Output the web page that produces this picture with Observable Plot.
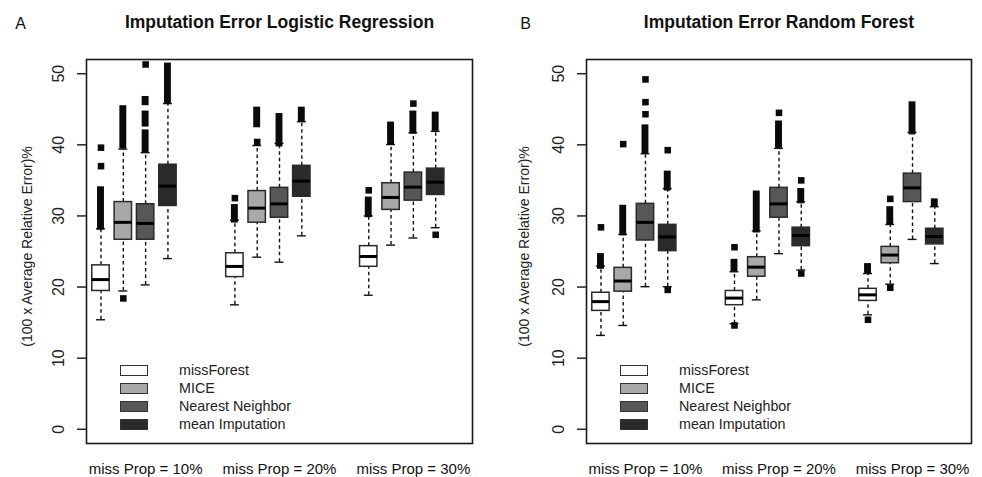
<!DOCTYPE html>
<html>
<head>
<meta charset="utf-8">
<script src="https://cdn.jsdelivr.net/npm/d3@7"></script>
<script src="https://cdn.jsdelivr.net/npm/@observablehq/plot@0.6"></script>
<style>
  html, body { margin: 0; padding: 0; background: #fff; }
  #wrap { display: flex; width: 982px; height: 477px; }
  .panel { position: relative; width: 491px; height: 477px; }
  .legend { position: absolute; font-family: "Liberation Sans", Arial, sans-serif; font-size: 14.3px; color: #222; }
  .legend .row { position: absolute; height: 10px; white-space: nowrap; }
  .legend .sw { position: absolute; width: 26px; height: 9px; border: 1px solid #333; }
  .legend .lab { position: absolute; top: -4px; line-height: 18px; }
</style>
</head>
<body>
<div id="wrap"></div>
<script>
// ---- categories & labels ----
const methods = ["missForest", "MICE", "Nearest Neighbor", "mean Imputation"];
const methodFills = ["#ffffff", "#a8a8a8", "#575757", "#2a2a2a"];
const propLabels = ["miss Prop = 10%", "miss Prop = 20%", "miss Prop = 30%"];
const propCenters = [3, 9, 15];
const boxPositions = [1, 2, 3, 4, 7, 8, 9, 10, 13, 14, 15, 16];
const yTicks = [0, 10, 20, 30, 40, 50];
const yLabel = "(100 x Average Relative Error)%";

// ---- Panel A: Logistic Regression (order: 10% mF, MICE, NN, mean, 20% ..., 30% ...) ----
const lrLowerWhisker = [15.4, 19.45, 20.3, 24.0, 17.5, 24.2, 23.5, 27.2, 18.85, 25.9, 26.9, 28.35];
const lrQ1 = [19.45, 26.65, 26.65, 31.4, 21.4, 29.05, 29.75, 32.7, 22.85, 30.85, 32.15, 32.95];
const lrMedian = [21.05, 29.1, 28.95, 34.2, 22.9, 31.1, 31.7, 34.9, 24.3, 32.6, 34.05, 34.75];
const lrQ3 = [23.05, 31.95, 31.65, 37.2, 24.75, 33.5, 33.95, 37.05, 25.75, 34.6, 36.1, 36.65];
const lrUpperWhisker = [28.2, 39.4, 38.9, 45.8, 29.4, 39.9, 40.2, 43.25, 30.0, 40.05, 41.7, 41.9];
const lrOutlierRuns = [
  [[28.0, 34.1]], [[39.4, 45.5]], [[38.9, 42.1], [42.5, 44.75], [45.5, 46.8]], [[45.8, 51.5]],
  [[29.0, 31.6]], [[42.4, 45.3]], [[39.7, 44.4]], [[43.25, 45.3]],
  [[29.75, 32.65]], [[39.9, 43.2]], [[41.5, 44.75]], [[41.9, 44.6]]
];
const lrOutlierPoints = [
  [37.0, 39.6], [18.4], [51.3], [],
  [32.5], [40.4], [], [],
  [33.6], [], [45.8], [27.35]
];

// ---- Panel B: Random Forest ----
const rfLowerWhisker = [13.2, 14.6, 20.05, 20.05, 14.85, 18.2, 24.7, 22.4, 16.1, 20.4, 26.7, 23.3];
const rfQ1 = [16.65, 19.35, 26.55, 25.05, 17.45, 21.45, 29.75, 25.75, 18.05, 23.35, 31.95, 26.0];
const rfMedian = [17.95, 20.85, 29.1, 27.05, 18.45, 22.8, 31.7, 27.25, 18.9, 24.5, 33.95, 27.1];
const rfQ3 = [19.2, 22.7, 31.7, 28.75, 19.45, 24.2, 33.95, 28.35, 19.75, 25.65, 35.95, 28.2];
const rfUpperWhisker = [22.95, 27.4, 38.75, 33.85, 22.15, 27.9, 39.5, 32.0, 21.9, 28.8, 41.75, 31.3];
const rfOutlierRuns = [
  [[22.5, 24.7]], [[27.2, 31.5]], [[38.75, 42.8]], [[33.5, 36.3]],
  [[22.1, 23.9]], [[27.6, 33.5]], [[39.5, 43.35]], [[31.7, 33.85]],
  [[21.8, 23.3]], [[28.7, 31.3]], [[41.4, 46.05]], [[31.2, 32.4]]
];
const rfOutlierPoints = [
  [28.4], [40.1], [44.3, 46.0, 49.2], [39.25, 19.6],
  [25.6, 14.6], [], [44.5], [35.0, 21.9],
  [15.4], [32.4, 19.9], [], []
];

const FONT = "'Liberation Sans', Arial, Helvetica, sans-serif";

function panel(cfg) {
  const boxes = boxPositions.map((pos, i) => ({
    pos, method: methods[i % 4],
    lower: cfg.lower[i], q1: cfg.q1[i], median: cfg.median[i], q3: cfg.q3[i], upper: cfg.upper[i]
  }));
  const runRows = cfg.runs.flatMap((rs, i) => rs.map(([lo, hi]) => ({pos: boxPositions[i], lo, hi})));
  const pointRows = cfg.points.flatMap((ps, i) => ps.map(v => ({pos: boxPositions[i], v})));
  const half = 0.39, cap = 0.2, runHalf = 0.155;
  const whisk = {stroke: "#111", strokeWidth: 1.4, strokeDasharray: "3.5,3"};
  const capS = {stroke: "#111", strokeWidth: 1.4};

  const svg = Plot.plot({
    width: 491, height: 477,
    marginTop: 59, marginBottom: 34, marginLeft: cfg.marginLeft, marginRight: cfg.marginRight,
    x: {domain: [0.35, 17.65], axis: null},
    y: {domain: [-2, 52], axis: null},
    color: {domain: methods, range: methodFills},
    style: {fontFamily: FONT, background: "white", overflow: "visible", color: "#222"},
    marks: [
      Plot.ruleX(boxes, {x: "pos", y1: "q3", y2: "upper", ...whisk}),
      Plot.ruleX(boxes, {x: "pos", y1: "lower", y2: "q1", ...whisk}),
      Plot.ruleY(boxes, {y: "upper", x1: d => d.pos - cap, x2: d => d.pos + cap, ...capS}),
      Plot.ruleY(boxes, {y: "lower", x1: d => d.pos - cap, x2: d => d.pos + cap, ...capS}),
      Plot.rect(runRows, {x1: d => d.pos - runHalf, x2: d => d.pos + runHalf, y1: "lo", y2: "hi", fill: "#0a0a0a"}),
      Plot.dot(pointRows, {x: "pos", y: "v", symbol: "square", r: 3.7, fill: "#0a0a0a", stroke: "none"}),
      Plot.rect(boxes, {x1: d => d.pos - half, x2: d => d.pos + half, y1: "q1", y2: "q3", fill: "method", stroke: "#2a2a2a", strokeWidth: 1.5}),
      Plot.ruleY(boxes, {y: "median", x1: d => d.pos - half, x2: d => d.pos + half, stroke: "#000", strokeWidth: 3}),
      Plot.frame({stroke: "#1a1a1a", strokeWidth: 1.6}),
      Plot.axisY({ticks: yTicks, tickSize: 9, tickFormat: () => "", strokeWidth: 1.5, stroke: "#222"}),
      Plot.text(yTicks, {y: d => d, text: d => String(d), frameAnchor: "left", dx: -28, rotate: -90,
        textAnchor: "middle", lineAnchor: "middle", fontSize: 16, fill: "#222"}),
      Plot.text([yLabel], {text: d => d, frameAnchor: "left", dx: cfg.ylabelDx, dy: -5, rotate: -90,
        textAnchor: "middle", lineAnchor: "middle", fontSize: 14, fill: "#222"}),
      Plot.text(propLabels, {x: (d, i) => propCenters[i], text: d => d, frameAnchor: "bottom", dy: 26,
        textAnchor: "middle", lineAnchor: "middle", fontSize: 15, fill: "#111"}),
      Plot.text([cfg.title], {text: d => d, frameAnchor: "top", dy: -37,
        textAnchor: "middle", lineAnchor: "middle", fontSize: 17.5, fontWeight: "bold", fill: "#111"}),
      Plot.text([cfg.letter], {text: d => d, frameAnchor: "top-left", dx: cfg.letterDx, dy: -36,
        textAnchor: "middle", lineAnchor: "middle", fontSize: 16, fill: "#111"})
    ]
  });

  const div = document.createElement("div");
  div.className = "panel";
  div.appendChild(svg);
  const leg = document.createElement("div");
  leg.className = "legend";
  leg.style.left = "0px"; leg.style.top = "0px";
  methods.forEach((m, i) => {
    const row = document.createElement("div");
    row.className = "row";
    row.style.left = (cfg.marginLeft + 34) + "px";
    row.style.top = (364.5 + i * 18.33) + "px";
    const sw = document.createElement("div");
    sw.className = "sw";
    sw.style.left = "0px"; sw.style.top = "0px";
    sw.style.background = methodFills[i];
    const lab = document.createElement("div");
    lab.className = "lab";
    lab.style.left = "59px";
    lab.textContent = m;
    row.appendChild(sw); row.appendChild(lab);
    leg.appendChild(row);
  });
  div.appendChild(leg);
  return div;
}

const wrap = document.getElementById("wrap");
wrap.appendChild(panel({
  title: "Imputation Error Logistic Regression", letter: "A",
  lower: lrLowerWhisker, q1: lrQ1, median: lrMedian, q3: lrQ3, upper: lrUpperWhisker,
  runs: lrOutlierRuns, points: lrOutlierPoints,
  marginLeft: 86, marginRight: 19, ylabelDx: -59, letterDx: -66
}));
wrap.appendChild(panel({
  title: "Imputation Error Random Forest", letter: "B",
  lower: rfLowerWhisker, q1: rfQ1, median: rfMedian, q3: rfQ3, upper: rfUpperWhisker,
  runs: rfOutlierRuns, points: rfOutlierPoints,
  marginLeft: 95, marginRight: 11, ylabelDx: -62, letterDx: -61
}));
</script>
</body>
</html>
